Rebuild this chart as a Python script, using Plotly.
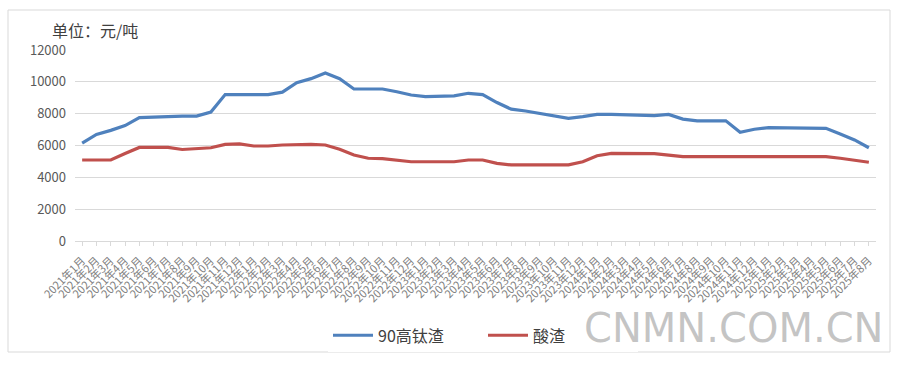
import plotly.graph_objects as go

months = [f"{y}年{m}月" for y in range(2021, 2026) for m in range(1, 13)]
months = months[:56]  # 2021年1月 .. 2025年8月

high_ti_slag = [6150, 6700, 6950, 7250, 7750, 7800, 7850, 7850, 7850, 8100,
                9200, 9200, 9200, 9200, 9350, 9950, 10200, 10550, 10200, 9550,
                9550, 9550, 9380, 9170, 9070, 9070, 9120, 9280, 9200, 8700,
                8280, 8170, 8020, 7850, 7710, 7810, 7950, 7950, 7930, 7880,
                7880, 7950, 7660, 7550, 7550, 7550, 6830, 7020, 7120, 7120,
                7080, 7080, 7080, 6720, 6350, 5860]

acid_slag = [5090, 5090, 5090, 5500, 5880, 5880, 5880, 5750, 5820, 5860,
             6070, 6100, 5970, 5970, 6030, 6070, 6070, 6030, 5760, 5400,
             5200, 5180, 5090, 4980, 4980, 4980, 4980, 5090, 5090, 4880,
             4780, 4780, 4780, 4780, 4780, 4980, 5360, 5500, 5510, 5500,
             5490, 5400, 5300, 5300, 5300, 5300, 5300, 5300, 5300, 5300,
             5300, 5300, 5300, 5200, 5090, 4950]

series_names = ["90高钛渣", "酸渣"]
y_ticks = [0, 2000, 4000, 6000, 8000, 10000, 12000]
y_tick_text = ["0", "2000", "4000", "6000", "8000", "10000", "12000"]

FONT = "Noto Sans CJK SC"

fig = go.Figure()
fig.add_trace(go.Scatter(x=months, y=high_ti_slag, mode="lines", name=series_names[0],
                         line=dict(color="#4F81BD", width=3.2)))
fig.add_trace(go.Scatter(x=months, y=acid_slag, mode="lines", name=series_names[1],
                         line=dict(color="#C0504D", width=3.2)))

fig.update_layout(
    width=900, height=365,
    margin=dict(l=75, r=24, t=50, b=124, autoexpand=False),
    paper_bgcolor="white", plot_bgcolor="white",
    font=dict(family=FONT, color="#595959"),
    showlegend=True,
    legend=dict(orientation="h", x=(328 - 75) / 801, xanchor="left", y=-0.405, yanchor="top",
                font=dict(size=16, color="#404040"), itemwidth=40, entrywidth=100),
    shapes=[dict(type="rect", xref="paper", yref="paper",
                 x0=-67/801, x1=1 + 14/801, y0=-111/191, y1=1 + 40/191,
                 line=dict(color="#d9d9d9", width=1), fillcolor="rgba(0,0,0,0)", layer="below")],
    annotations=[
        dict(text="单位：元/吨", xref="paper", yref="paper", x=-25/801, y=1 + 20/191,
             xanchor="left", yanchor="middle", showarrow=False,
             font=dict(size=16, color="#404040", family=FONT)),
        dict(text="CNMN.COM.CN", xref="paper", yref="paper", x=1 + 10/801, y=-62/191,
             xanchor="right", yanchor="top", showarrow=False,
             font=dict(size=40, color="rgba(170,170,170,0.7)", family="DejaVu Sans"))
    ],
)

fig.update_xaxes(type="category", range=[-0.5, 55.5], tickangle=-45, automargin=False,
                 tickfont=dict(size=11, color="#808080"),
                 showgrid=False, showline=True, linecolor="#d9d9d9", linewidth=1,
                 ticks="outside", ticklen=4, tickcolor="#d9d9d9", ticklabelstandoff=4)
fig.update_yaxes(range=[0, 12000], tickvals=y_ticks, ticktext=y_tick_text, automargin=False,
                 showgrid=True, gridcolor="#d9d9d9",
                 gridwidth=1, zeroline=False, showline=False,
                 tickfont=dict(size=13, color="#595959"), ticks="", ticklabelstandoff=8)

fig.write_html("out.html", config={"displayModeBar": False},
               post_script="document.body.style.margin='0';document.body.style.overflow='hidden';")
